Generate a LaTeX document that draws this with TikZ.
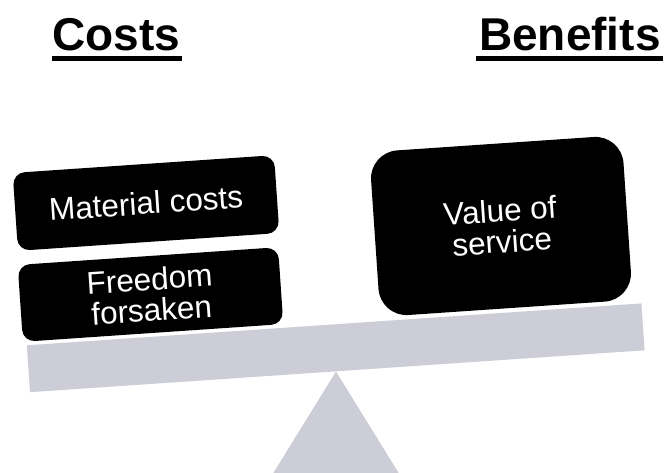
\documentclass[tikz,border=0pt]{standalone}
\usepackage{fontspec}
\setmainfont{Liberation Sans}
\usetikzlibrary{calc}
\definecolor{beamgrey}{RGB}{205,205,215}
\tikzset{
  title/.style={inner sep=0pt, anchor=base west, font=\fontsize{46}{50}\selectfont\bfseries},
  weight/.style={fill=black, text=white, rounded corners=#1, inner sep=0pt, align=center,
    rotate=3.9, font=\fontsize{31.5}{31}\selectfont},
  weight/.default=12pt,
  support/.style={fill=beamgrey, draw=none}
}
\begin{document}
\begin{tikzpicture}[x=1pt,y=-1pt]
\useasboundingbox (0,0) rectangle (667,473);
% fulcrum and beam
\coordinate (apex) at (336,371.5);
\coordinate (bl) at (269,480);
\coordinate (br) at (403,480);
\fill[support] (apex) -- (br) -- (bl) -- cycle;
\node[support, rotate=3.9, minimum width=616pt, minimum height=47pt, inner sep=0pt] (beam) at (335.7,347.8) {};
% weights
\node[weight, minimum width=262pt, minimum height=78pt] (mat) at (146,203) {Material costs};
\node[weight, minimum width=261pt, minimum height=77pt] (free) at (150.5,294.5) {Freedom\\forsaken};
\node[weight=28pt, minimum width=253pt, minimum height=165pt] (val) at (501,226) {Value of\\service};
% titles
\node[title] (costs) at (52,51) {Costs};
\node[title] (benefits) at (479,50.5) {Benefits};
\fill ($(costs.base west)+(-0.5,5)$) rectangle ($(costs.base east)+(2,9.7)$);
\fill ($(benefits.base west)+(-3,5.5)$) rectangle ($(benefits.base east)+(2,10.2)$);
\end{tikzpicture}
\end{document}
